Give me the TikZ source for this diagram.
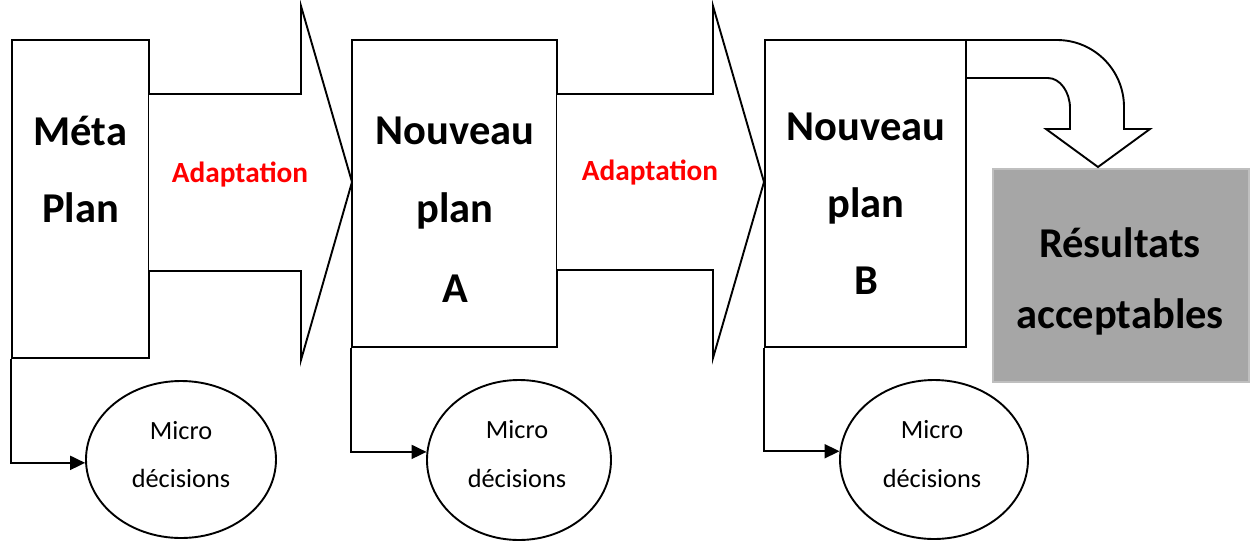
\documentclass[tikz,border=0pt]{standalone}
\usepackage{fontspec}
\setmainfont{Carlito}
\usetikzlibrary{arrows.meta,shapes.geometric}
\definecolor{resfill}{HTML}{A6A6A6}
\definecolor{resedge}{HTML}{BFBFBF}
\begin{document}
\begin{tikzpicture}[x=1pt,y=-1pt,line join=miter,
  outline/.style={draw=black,line width=1.9pt},
  planbox/.style={outline,fill=white,inner sep=0pt},
  decision/.style={outline,ellipse,inner sep=0pt},
  fatarrow/.style={outline,fill=white},
  feed/.style={outline,-{Triangle[length=15pt,width=14pt]}},
  title/.style={font=\fontsize{42.5}{50}\selectfont\bfseries,anchor=base,inner sep=0pt},
  adapt/.style={font=\fontsize{29.3}{35}\selectfont\bfseries,text=red,anchor=base,inner sep=0pt},
  micro/.style={font=\fontsize{26.3}{31}\selectfont,anchor=base,inner sep=0pt}]
\useasboundingbox (0,0) rectangle (1254,542);

% plan boxes
\node[planbox,minimum width=137,minimum height=318] (meta) at (80.5,199) {};
\node[planbox,minimum width=205,minimum height=307] (planA) at (454.5,193.5) {};
\node[planbox,minimum width=201,minimum height=307] (planB) at (865.5,193.5) {};
\node[draw=resedge,fill=resfill,line width=2pt,minimum width=256,minimum height=213] (result) at (1121,275.5) {};

% broad adaptation arrows
\draw[fatarrow] (149,94) -- (301,94) -- (301,6) -- (352,182) -- (301,360) -- (301,271) -- (149,271);
\draw[fatarrow] (557,94) -- (713,94) -- (713,6) -- (764,182) -- (713,358) -- (713,270) -- (557,270);

% bent arrow towards the results
\draw[fatarrow] (967,40) -- (1057,40) .. controls (1094,40) and (1124,70) .. (1124,107)
  -- (1124,129) -- (1150,129) -- (1098,167) -- (1046,129) -- (1070,129) -- (1070,108)
  .. controls (1070,92) and (1060,78) .. (1048,78) -- (967,78);

% micro decisions
\node[decision,minimum width=190,minimum height=157] (md1) at (181,459.5) {};
\node[decision,minimum width=184,minimum height=160] (md2) at (519,460) {};
\node[decision,minimum width=188,minimum height=159] (md3) at (934,459.5) {};

\draw[feed] (meta.south west) |- (md1.182);
\draw[feed] (planA.south west) |- (md2.175);
\draw[feed] (planB.south west) |- (md3.175);

% labels
\node[title] (t1a) at (80.5,145) {Méta};
\node[title] (t1b) at (80.5,222) {Plan};
\node[title] (t2a) at (455,144) {Nouveau};
\node[title] (t2b) at (455,222) {plan};
\node[title] (t2c) at (455,302) {A};
\node[title] (t3a) at (866,140) {Nouveau};
\node[title] (t3b) at (866,217) {plan};
\node[title] (t3c) at (866,294) {B};
\node[title] (t4a) at (1120,257) {Résultats};
\node[title] (t4b) at (1120,328) {acceptables};

\node[adapt] (ad1) at (240,182) {Adaptation};
\node[adapt] (ad2) at (650,180) {Adaptation};

\node[micro] (m1a) at (181,439) {Micro};
\node[micro] (m1b) at (181,487) {décisions};
\node[micro] (m2a) at (517,438) {Micro};
\node[micro] (m2b) at (517,487) {décisions};
\node[micro] (m3a) at (932,438) {Micro};
\node[micro] (m3b) at (932,487) {décisions};
\end{tikzpicture}
\end{document}
